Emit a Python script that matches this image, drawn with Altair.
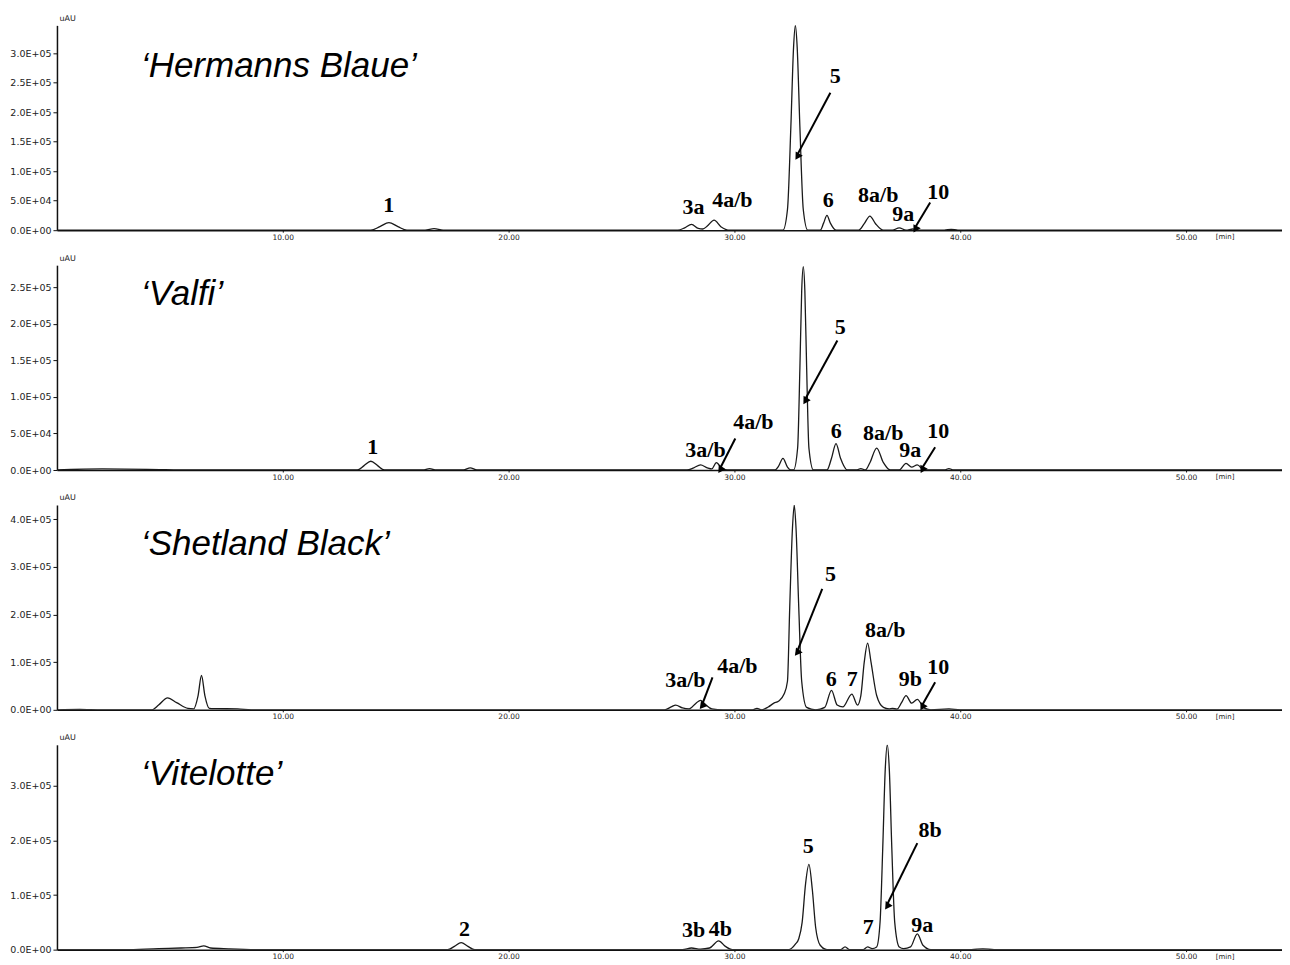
import math
import altair as alt
import pandas as pd

# ---------------- axis data ----------------
X_MAX = 54.25
x_ticks = [10, 20, 30, 40, 50]
x_tick_labels = ["10.00", "20.00", "30.00", "40.00", "50.00"]

panel_names = ["‘Hermanns Blaue’", "‘Valfi’", "‘Shetland Black’", "‘Vitelotte’"]
y_max = [347000, 280000, 430000, 375000]

hb_y_ticks = [0, 50000, 100000, 150000, 200000, 250000, 300000]
hb_y_labels = ["0.0E+00", "5.0E+04", "1.0E+05", "1.5E+05", "2.0E+05", "2.5E+05", "3.0E+05"]
va_y_ticks = [0, 50000, 100000, 150000, 200000, 250000]
va_y_labels = ["0.0E+00", "5.0E+04", "1.0E+05", "1.5E+05", "2.0E+05", "2.5E+05"]
sb_y_ticks = [0, 100000, 200000, 300000, 400000]
sb_y_labels = ["0.0E+00", "1.0E+05", "2.0E+05", "3.0E+05", "4.0E+05"]
vi_y_ticks = [0, 100000, 200000, 300000]
vi_y_labels = ["0.0E+00", "1.0E+05", "2.0E+05", "3.0E+05"]

# ---------------- chromatogram traces (time [min], signal [uAU]) ----------------
hb_trace = [
    (0.0, 0), (3.0, 0), (6.0, 0), (9.0, 0), (12.0, 0), (13.9, 0), (14.3, 6000), (14.7, 13000),
    (15.1, 6000), (15.5, 0), (16.3, 0), (16.7, 2500), (17.1, 0), (20.0, 0), (24.0, 0),
    (27.5, 0), (27.8, 4000), (28.1, 10000), (28.4, 3000), (28.6, 2000), (28.8, 7000),
    (29.1, 17000), (29.4, 6000), (29.8, 0), (31.0, 0), (32.15, 0), (32.35, 35000),
    (32.5, 175000), (32.62, 310000), (32.7, 347000), (32.78, 310000), (32.9, 175000),
    (33.05, 35000), (33.25, 0), (33.8, 0), (33.95, 12000), (34.1, 25000), (34.25, 12000),
    (34.5, 0), (35.5, 0), (35.75, 11000), (36.0, 24000), (36.25, 11000), (36.6, 0),
    (37.0, 0), (37.3, 4000), (37.6, 0), (37.9, 2000), (38.2, 0), (39.3, 0), (39.6, 1500),
    (39.9, 0), (45.0, 0), (50.0, 0), (54.25, 0),
]
va_trace = [
    (0.0, 0), (2.0, 1500), (4.0, 1000), (6.0, 0), (10.0, 0), (13.3, 0), (13.6, 6000),
    (13.9, 12000), (14.2, 6000), (14.5, 0), (16.2, 0), (16.5, 2000), (16.8, 0), (18.0, 0),
    (18.3, 3000), (18.6, 0), (22.0, 0), (27.9, 0), (28.2, 3000), (28.5, 7000), (28.8, 3000),
    (29.0, 1500), (29.2, 10000), (29.45, 2000), (29.7, 0), (31.8, 0), (31.95, 5000),
    (32.15, 16000), (32.35, 4000), (32.5, 0), (32.62, 0), (32.8, 30000), (32.9, 139000),
    (32.98, 245000), (33.05, 278000), (33.12, 245000), (33.2, 139000), (33.3, 30000),
    (33.5, 0), (34.1, 0), (34.3, 16000), (34.5, 36000), (34.7, 16000), (35.0, 0), (35.4, 0),
    (35.6, 2000), (35.8, 0), (36.0, 10000), (36.3, 30000), (36.6, 10000), (36.9, 0),
    (37.3, 0), (37.6, 9000), (37.85, 4000), (38.1, 7000), (38.4, 0), (39.3, 0), (39.5, 2000),
    (39.7, 0), (45.0, 0), (54.25, 0),
]
sb_trace = [
    (0.0, 0), (1.0, 1000), (2.0, 0), (4.2, 0), (4.5, 10000), (4.9, 25000), (5.3, 15000),
    (5.8, 3000), (6.05, 2000), (6.25, 30000), (6.4, 72000), (6.55, 30000), (6.75, 3000),
    (7.0, 2500), (8.0, 2000), (8.6, 0), (12.0, 0), (20.0, 0), (26.9, 0), (27.2, 6000),
    (27.4, 10000), (27.7, 4000), (28.0, 2000), (28.3, 14000), (28.5, 20000), (28.7, 12000),
    (29.0, 2000), (29.5, 0), (30.8, 0), (31.0, 3000), (31.2, 0), (31.5, 6000), (31.75, 14000),
    (31.95, 18000), (32.2, 33000), (32.35, 60000), (32.45, 215000), (32.57, 380000),
    (32.65, 430000), (32.73, 380000), (32.85, 215000), (32.98, 60000), (33.2, 5000),
    (33.6, 0), (34.0, 5000), (34.3, 41000), (34.55, 10000), (34.8, 6000), (35.2, 33000),
    (35.45, 10000), (35.6, 30000), (35.75, 100000), (35.9, 140000), (36.05, 100000),
    (36.3, 30000), (36.6, 5000), (36.85, 2000), (37.0, 3000), (37.2, 1500), (37.4, 15000),
    (37.6, 30000), (37.85, 14000), (38.1, 22000), (38.4, 4000), (38.7, 0), (39.5, 2000),
    (40.0, 0), (45.0, 0), (54.25, 0),
]
vi_trace = [
    (0.0, 0), (3.0, 0), (4.5, 2000), (5.5, 3000), (6.2, 4000), (6.5, 7000), (6.8, 3000),
    (7.6, 1500), (9.0, 0), (12.0, 0), (17.3, 0), (17.6, 6000), (17.9, 13000), (18.2, 6000),
    (18.5, 0), (22.0, 0), (27.7, 0), (28.1, 3000), (28.5, 1000), (28.9, 3000), (29.3, 16000),
    (29.6, 6000), (29.9, 0), (32.4, 0), (32.7, 10000), (32.85, 20000), (33.0, 50000),
    (33.15, 120000), (33.3, 156000), (33.45, 110000), (33.6, 40000), (33.8, 8000), (34.1, 0),
    (34.7, 0), (34.9, 5000), (35.1, 0), (35.7, 0), (35.9, 5000), (36.1, 2000), (36.3, 5000),
    (36.45, 50000), (36.57, 187000), (36.68, 330000), (36.77, 375000), (36.86, 330000),
    (36.97, 187000), (37.1, 50000), (37.3, 5000), (37.5, 2000), (37.8, 5000), (38.1, 29000),
    (38.35, 8000), (38.7, 0), (40.5, 0), (41.0, 1500), (41.5, 0), (45.0, 0), (54.25, 0),
]

# ---------------- peak labels (label, time, signal) ----------------
hb_labels = [("1", 14.69, 42000), ("3a", 28.19, 39000), ("4a/b", 29.91, 51000), ("5", 34.47, 261000),
             ("6", 34.16, 51000), ("8a/b", 36.37, 59000), ("9a", 37.48, 27000), ("10", 39.03, 64000)]
va_labels = [("1", 13.98, 31000), ("3a/b", 28.72, 27000), ("4a/b", 30.84, 65000), ("5", 34.69, 195000),
             ("6", 34.51, 54000), ("8a/b", 36.59, 51000), ("9a", 37.79, 27000), ("10", 39.03, 54000)]
sb_labels = [("3a/b", 27.83, 62000), ("4a/b", 30.13, 93000), ("5", 34.25, 285000), ("6", 34.29, 64000),
             ("7", 35.22, 64000), ("8a/b", 36.68, 167000), ("9b", 37.79, 64000), ("10", 39.03, 89000)]
vi_labels = [("2", 18.05, 38000), ("3b", 28.19, 36000), ("4b", 29.38, 38000), ("5", 33.27, 190000),
             ("7", 35.93, 42000), ("8b", 38.67, 219000), ("9a", 38.32, 45000)]

# ---------------- arrows (t1, v1, t2, v2) ----------------
hb_arrows = [(34.25, 233000, 32.79, 128000), (38.67, 47000, 38.01, 5000)]
va_arrows = [(30.04, 43000, 29.38, 3000), (34.56, 177000, 33.14, 97000), (38.89, 31000, 38.32, 3000)]
sb_arrows = [(29.03, 68000, 28.58, 12000), (33.89, 254000, 32.79, 124000), (38.89, 58000, 38.32, 10000)]
vi_arrows = [(38.10, 195000, 36.77, 83000)]

traces = [hb_trace, va_trace, sb_trace, vi_trace]
labels = [hb_labels, va_labels, sb_labels, vi_labels]
arrows = [hb_arrows, va_arrows, sb_arrows, vi_arrows]
y_ticks = [hb_y_ticks, va_y_ticks, sb_y_ticks, vi_y_ticks]
y_labels = [hb_y_labels, va_y_labels, sb_y_labels, vi_y_labels]

# ---------------- layout ----------------
W = 1226
H = 205
SPACING = 35
title_y = [52, 40, 50, 40]


def label_expr(values, texts):
    expr = "''"
    for v, t in reversed(list(zip(values, texts))):
        expr = f"datum.value == {v} ? '{t}' : ({expr})"
    return expr


def panel(i):
    xs = alt.Scale(domain=[0, X_MAX], nice=False, zero=False)
    ys = alt.Scale(domain=[0, y_max[i]], nice=False)
    px_min = W / X_MAX
    px_val = H / y_max[i]

    x_axis = alt.Axis(
        values=x_ticks, labelExpr=label_expr(x_ticks, x_tick_labels), title=None,
        grid=False, domainColor="#111", domainWidth=1.5, tickColor="#111", tickSize=2,
        labelFont="DejaVu Sans", labelFontSize=7.5, labelColor="#222", labelPadding=1)
    y_axis = alt.Axis(
        values=y_ticks[i], labelExpr=label_expr(y_ticks[i], y_labels[i]),
        title="uAU", titleAngle=0, titleX=2, titleY=-3, titleAlign="left",
        titleBaseline="bottom", titleFont="DejaVu Sans", titleFontSize=8,
        titleFontWeight="normal", titleColor="#222",
        grid=False, domainColor="#111", domainWidth=1.5, tickColor="#111", tickSize=4,
        labelFont="DejaVu Sans", labelFontSize=9.5, labelColor="#222", labelPadding=2)

    trace = pd.DataFrame(traces[i], columns=["t", "v"])
    line = alt.Chart(trace).mark_line(
        color="#1a1a1a", strokeWidth=1.3, interpolate="monotone", clip=True
    ).encode(
        x=alt.X("t:Q", scale=xs, axis=x_axis),
        y=alt.Y("v:Q", scale=ys, axis=y_axis),
    )

    ar = pd.DataFrame(arrows[i], columns=["t1", "v1", "t2", "v2"])
    ar["ang"] = [
        (180 - math.degrees(math.atan2((r.t2 - r.t1) * px_min, (r.v2 - r.v1) * px_val))) % 360
        for r in ar.itertuples()
    ]
    rules = alt.Chart(ar).mark_rule(color="black", strokeWidth=2).encode(
        x=alt.X("t1:Q", scale=xs, axis=x_axis), y=alt.Y("v1:Q", scale=ys, axis=y_axis),
        x2="t2:Q", y2="v2:Q",
    )
    heads = alt.Chart(ar).mark_point(
        shape="triangle-up", filled=True, color="black", opacity=1, size=70
    ).encode(
        x=alt.X("t2:Q", scale=xs, axis=x_axis), y=alt.Y("v2:Q", scale=ys, axis=y_axis),
        angle=alt.Angle("ang:Q", scale=None),
    )

    lb = pd.DataFrame(labels[i], columns=["lab", "t", "v"])
    texts = alt.Chart(lb).mark_text(
        font="Liberation Serif", fontWeight="bold", fontSize=22, align="center",
        baseline="middle", color="black"
    ).encode(
        x=alt.X("t:Q", scale=xs, axis=x_axis), y=alt.Y("v:Q", scale=ys, axis=y_axis), text="lab:N"
    )

    title = alt.Chart(pd.DataFrame({"name": [panel_names[i]]})).mark_text(
        font="Liberation Sans", fontStyle="italic", fontSize=35, align="left",
        baseline="alphabetic", color="black"
    ).encode(text="name:N", x=alt.value(84), y=alt.value(title_y[i]))

    unit = alt.Chart(pd.DataFrame({"u": ["[min]"]})).mark_text(
        font="DejaVu Sans", fontSize=7, align="center", baseline="top", color="#222"
    ).encode(text="u:N", x=alt.value(1169), y=alt.value(H + 3))

    return alt.layer(line, rules, heads, texts, title, unit).properties(width=W, height=H)


chart = alt.vconcat(
    *[panel(i) for i in range(4)], spacing=SPACING, bounds="flush"
).properties(
    padding={"left": 1, "top": 6, "right": 0, "bottom": 0},
    background="white",
).configure_view(stroke=None)

chart.save("out.html", embed_options={"renderer": "svg", "actions": False})
